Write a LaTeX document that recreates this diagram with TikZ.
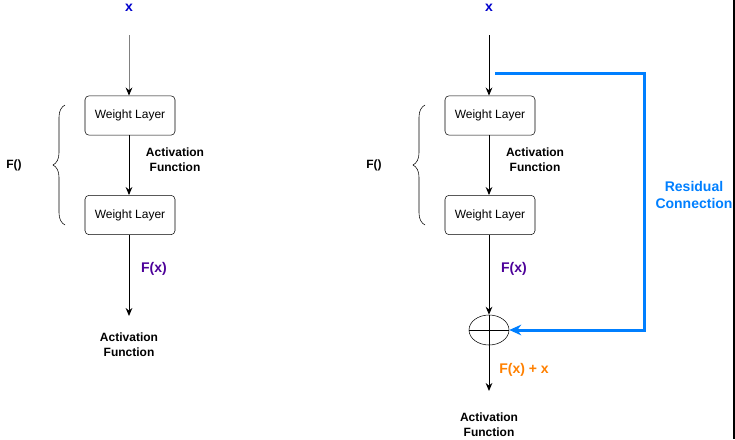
\documentclass[tikz,border=0pt]{standalone}
\usepackage{fontspec}
\setmainfont{Liberation Sans}
\usepackage{tikz}
\usetikzlibrary{arrows.meta,decorations.pathreplacing,shapes.geometric}

\definecolor{xblue}{RGB}{0,0,204}
\definecolor{fpurple}{RGB}{76,0,153}
\definecolor{forange}{RGB}{255,128,0}
\definecolor{resblue}{RGB}{0,127,255}

\tikzset{
    layerbox/.style={draw, rounded corners=3pt, minimum width=67.5pt, minimum height=29.5pt, inner sep=0pt, font=\fontsize{9}{11}\selectfont},
    lbl/.style={inner sep=0.75pt, align=center, font=\bfseries\fontsize{9}{11}\selectfont},
    flow/.style={-{Stealth[length=6pt,width=5pt]}, line width=0.75pt},
}

\begin{document}
\begin{tikzpicture}[x=0.75pt,y=0.75pt,yscale=-1,xscale=1]
    \useasboundingbox (0,0) rectangle (735,439);

        % plain block
        \node[lbl, text=xblue, font=\bfseries\fontsize{10.5}{12}\selectfont] (xa) at (129,8) {x};
        \coordinate (ina) at (129,35);
        \node[layerbox] (wa1) at (130,115.5) {Weight Layer};
        \node[layerbox] (wa2) at (130,215) {Weight Layer};
        \coordinate (outa) at (129,316);
        \draw [line width=0.75pt, draw={rgb,255:red,128;green,128;blue,128}, -{Stealth[length=6pt,width=5pt,black]}] (ina) -- (wa1.north -| ina);
        \draw [flow] (wa1.south -| ina) -- (wa2.north -| ina);
        \draw [flow] (wa2.south -| ina) -- (outa);
        \node[lbl] (acta) at (175,160) {Activation\\Function};
        \node[lbl, text=fpurple, font=\bfseries\fontsize{10.5}{12}\selectfont] (fxa) at (154,269) {F(x)};
        \node[lbl] (acta2) at (129,345) {Activation\\Function};
        \draw [decorate, decoration={brace, amplitude=9pt}] (65,225) -- (65,105);
        \node[lbl] (fa) at (14,165) {F()};

        % residual block
        \node[lbl, text=xblue, font=\bfseries\fontsize{10.5}{12}\selectfont] (xb) at (489,8) {x};
        \coordinate (inb) at (489,35);
        \node[layerbox] (wb1) at (490,115.5) {Weight Layer};
        \node[layerbox] (wb2) at (490,215) {Weight Layer};
        \node[draw, ellipse, minimum width=30pt, minimum height=22.5pt, inner sep=0pt] (sum) at (489,330) {};
        \draw (sum.north) -- (sum.south) (sum.west) -- (sum.east);
        \coordinate (outb) at (489,391);
        \draw [flow] (inb) -- (wb1.north -| inb);
        \draw [flow] (wb1.south -| inb) -- (wb2.north -| inb);
        \draw [flow] (wb2.south -| inb) -- (sum.north);
        \draw [flow] (sum.south) -- (outb);
        \node[lbl] (actb) at (535,160) {Activation\\Function};
        \node[lbl, text=fpurple, font=\bfseries\fontsize{10.5}{12}\selectfont] (fxb) at (514,269) {F(x)};
        \node[lbl, text=forange, font=\bfseries\fontsize{10.5}{12}\selectfont] (fxx) at (524,370) {F(x) + x};
        \node[lbl] (actb2) at (489,425) {Activation\\Function};
        \draw [decorate, decoration={brace, amplitude=9pt}] (425,225) -- (425,105);
        \node[lbl] (fb) at (374,165) {F()};

        % skip path
        \coordinate (skip) at (495,73);
        \draw [resblue, line width=2.25pt, -{Stealth[length=9pt,width=8pt]}] (skip) -- (644,73) -- (644,330) -- (sum.east);
        \node[lbl, text=resblue, font=\bfseries\fontsize{10.5}{12.5}\selectfont] (res) at (694,195) {Residual\\Connection};

        \draw [line width=1.5pt] (733.5,0) -- (733.5,439);
\end{tikzpicture}
\end{document}
